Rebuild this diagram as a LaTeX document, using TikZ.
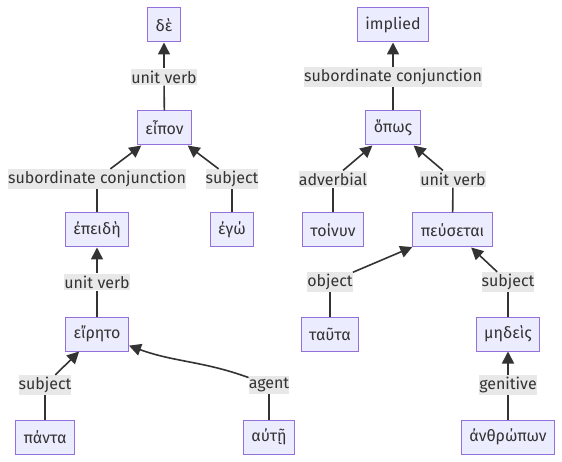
\documentclass[tikz,border=0pt]{standalone}
\usepackage{fontspec}
\setmainfont{Fira Sans}
\usetikzlibrary{arrows.meta}
\definecolor{boxfill}{HTML}{ECECFF}
\definecolor{boxline}{HTML}{9370DB}
\definecolor{ink}{HTML}{333333}
\definecolor{lblfill}{HTML}{E8E8E8}

\begin{document}
\begin{tikzpicture}[x=1pt, y=-1pt,
  every node/.style={font=\fontsize{16}{19}\selectfont, text=ink},
  word/.style={draw=boxline, fill=boxfill, line width=1pt, minimum height=34pt, inner xsep=8pt},
  rel/.style={fill=lblfill, inner xsep=0pt, inner ysep=2pt},
  link/.style={draw=ink, line width=1.6pt},
  arr/.style={link, -{Triangle[length=12pt, width=12pt]}}]
\useasboundingbox (0,0) rectangle (562,462);
% --- left tree ---
\node[word] (de)      at (164,25)  {δὲ};
\node[word] (eipon)   at (164.5,128) {εἶπον};
\node[word] (epeide)  at (97,230)  {ἐπειδὴ};
\node[word] (ego)     at (232,230) {ἐγώ};
\node[word] (eireto)  at (97,334)  {εἴρητο};
\node[word] (panta)   at (45,437)  {πάντα};
\node[word] (aute)    at (269,437) {αὐτῇ};
\node[rel] (uva) at (164,77)  {unit verb};
\node[rel] (sca) at (97,179)  {subordinate conjunction};
\node[rel] (sja) at (232,179) {subject};
\node[rel] (uvb) at (97,282)  {unit verb};
\node[rel] (sjb) at (45,385)  {subject};
\node[rel] (agt) at (269,385) {agent};
\draw[link] (eipon) -- (uva);  \draw[arr] (uva) -- (de);
\draw[link] (epeide) -- (sca); \draw[arr] (sca) -- (eipon);
\draw[link] (ego) -- (sja);    \draw[arr] (sja) -- (eipon);
\draw[link] (eireto) -- (uvb); \draw[arr] (uvb) -- (epeide);
\draw[link] (panta) -- (sjb);  \draw[arr] (sjb) -- (eireto);
\draw[link] (aute) -- (agt);   \draw[arr] (agt) to[out=160, in=-20] (eireto);
% --- right tree ---
\node[word] (implied)   at (393,25)  {implied};
\node[word] (hopos)     at (393,128) {ὅπως};
\node[word] (toinun)    at (333,230) {τοίνυν};
\node[word] (peusetai)  at (452.5,230) {πεύσεται};
\node[word] (tauta)     at (330,334) {ταῦτα};
\node[word] (medeis)    at (508,334) {μηδεὶς};
\node[word] (anthropon) at (508,437) {ἀνθρώπων};
\node[rel] (scb) at (393,77)  {subordinate conjunction};
\node[rel] (adv) at (333,179) {adverbial};
\node[rel] (uvc) at (453,179) {unit verb};
\node[rel] (obj) at (330,282) {object};
\node[rel] (sjc) at (508,282) {subject};
\node[rel] (gen) at (508,385) {genitive};
\draw[link] (hopos) -- (scb);     \draw[arr] (scb) -- (implied);
\draw[link] (toinun) -- (adv);    \draw[arr] (adv) -- (hopos);
\draw[link] (peusetai) -- (uvc);  \draw[arr] (uvc) -- (hopos);
\draw[link] (tauta) -- (obj);     \draw[arr] (obj) -- (peusetai);
\draw[link] (medeis) -- (sjc);    \draw[arr] (sjc) -- (peusetai);
\draw[link] (anthropon) -- (gen); \draw[arr] (gen) -- (medeis);
\end{tikzpicture}
\end{document}
